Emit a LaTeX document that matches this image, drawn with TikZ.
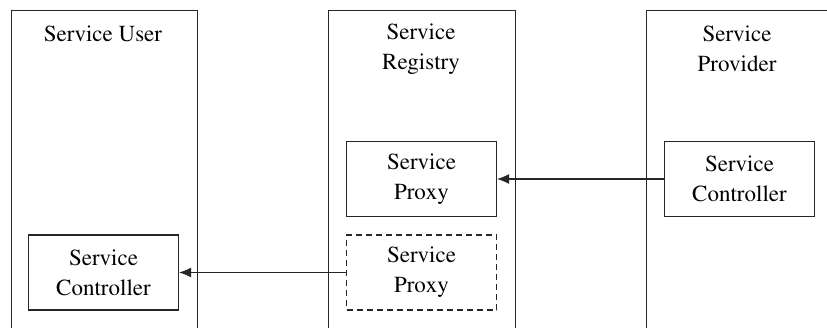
\documentclass[tikz,border=0pt]{standalone}
\usepackage[T1]{fontenc}
\usepackage{mathptmx}
\usetikzlibrary{arrows.meta}
\begin{document}
\begin{tikzpicture}[x=1pt,y=-1pt,
  lane/.style={draw=black!85, line width=1.1pt, minimum height=340pt, inner sep=0pt, anchor=north west},
  part/.style={draw=black!85, line width=1.1pt, minimum width=150pt, minimum height=75pt,
    inner sep=0pt, align=center, font=\fontsize{23}{30}\selectfont},
  title/.style={inner sep=0pt, align=center, font=\fontsize{23}{30}\selectfont},
  flow/.style={-{Latex[length=12pt,width=10pt]}, line width=1.1pt, draw=black!85}]
\useasboundingbox (0,0) rectangle (827,327);
\clip (0,0) rectangle (827,327);

% swim lanes (open at the bottom)
\node[lane, minimum width=186pt] (user) at (11,10) {};
\node[lane, minimum width=187pt] (registry) at (328,10) {};
\node[lane, minimum width=200pt] (provider) at (646,10) {};

% lane titles
\node[title] (usertitle) at (103,34) {Service User};
\node[title] (regtitle) at (421,49) {Service\\Registry};
\node[title] (provtitle) at (737,49) {Service\\Provider};

% components
\node[part] (proxy) at (421.5,179) {Service\\Proxy};
\node[part, dashed, dash pattern=on 6pt off 4pt] (proxycopy) at (421.5,272.5) {Service\\Proxy};
\node[part] (provctl) at (739.5,179) {Service\\Controller};
\node[part] (userctl) at (103.5,272.5) {Service\\Controller};

% message flow
\draw[flow] (provctl.west) -- (proxy.east);
\draw[flow] (proxycopy.west) -- (userctl.east);
\end{tikzpicture}
\end{document}
